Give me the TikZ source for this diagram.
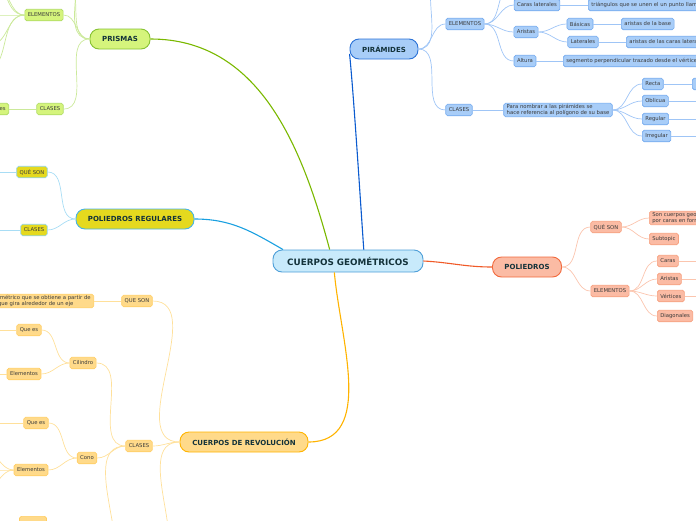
\documentclass[tikz,border=0pt]{standalone}
\usepackage{fontspec}
\setmainfont{DejaVu Sans}
\usetikzlibrary{positioning}
\definecolor{ink}{HTML}{13323A}
\definecolor{textgray}{HTML}{3A3A3A}
\definecolor{centerfill}{HTML}{C8EAFB}
\definecolor{centerline}{HTML}{4E9FD8}
\definecolor{prismline}{HTML}{86C232}
\definecolor{prismfill}{HTML}{D5F47C}
\definecolor{prismsubline}{HTML}{AEDB62}
\definecolor{prismedge}{HTML}{CBE99A}
\definecolor{prismmain}{HTML}{7AB800}
\definecolor{pyrline}{HTML}{2B72D6}
\definecolor{pyrfill}{HTML}{A8CDF8}
\definecolor{pyrsubline}{HTML}{72A9EE}
\definecolor{pyredge}{HTML}{9FC5F6}
\definecolor{pyrmain}{HTML}{0B5BCF}
\definecolor{regline}{HTML}{46B3E6}
\definecolor{regfill}{HTML}{E5D91E}
\definecolor{regsubline}{HTML}{8FD3EA}
\definecolor{regedge}{HTML}{A8DDF5}
\definecolor{regmain}{HTML}{1AA0E0}
\definecolor{polyline}{HTML}{F26A3D}
\definecolor{polyfill}{HTML}{FBBBA4}
\definecolor{polysubline}{HTML}{F6A07F}
\definecolor{polyedge}{HTML}{FBC5AE}
\definecolor{polymain}{HTML}{F05A28}
\definecolor{revline}{HTML}{FFB400}
\definecolor{revfill}{HTML}{FFDA8A}
\definecolor{revsubline}{HTML}{FFCD62}
\definecolor{revedge}{HTML}{FFE09A}
\definecolor{revmain}{HTML}{FFB300}

\begin{document}
\begin{tikzpicture}[
  x=1pt,
  y=-1pt,
  central/.style={
    rounded corners=9pt,minimum height=22pt,minimum width=150pt,
    draw=centerline,fill=centerfill,line width=0.9pt,
    font=\fontsize{8.8}{10}\selectfont\bfseries,text=ink
  },
  topic/.style={
    rounded corners=9pt,minimum height=20pt,inner xsep=4pt,line width=0.9pt,
    font=\fontsize{7}{8}\selectfont\bfseries,text=ink
  },
  sub/.style={
    rounded corners=1.8pt,minimum height=11.5pt,inner xsep=3pt,inner ysep=1pt,
    line width=0.6pt,font=\fontsize{5.3}{6.3}\selectfont,text=textgray,align=left
  },
  prismsub/.style={sub,draw=prismsubline,fill=prismfill},
  pyrsub/.style={sub,draw=pyrsubline,fill=pyrfill},
  regsub/.style={sub,draw=regsubline,fill=regfill},
  polysub/.style={sub,draw=polysubline,fill=polyfill},
  revsub/.style={sub,draw=revsubline,fill=revfill},
  branch/.style={line width=0.7pt},
  mainbranch/.style={line width=1.1pt},
  leftlink/.style={out=180,in=0},
  rightlink/.style={out=0,in=180}
]
  \useasboundingbox (0,0) rectangle (696,520);
  \clip (0,0) rectangle (696,520);

  % centre
  \node[central] (cuerpos) at (348,261) {CUERPOS GEOMÉTRICOS};

  % Prismas
  \node[topic,draw=prismline,fill=prismfill,minimum width=60pt] (prismas) at (120,39) {PRISMAS};
  \node[prismsub] (prism-elem) at (44,15) {ELEMENTOS};
  \node[prismsub] (prism-clases) at (50,109) {CLASES};
  \node[prismsub,anchor=east] (prism-tipos) at (9,109) {Regulares e irregulares};
  \coordinate (prism-up-a) at (62,-22);
  \coordinate (prism-up-b) at (62,-48);
  \coordinate (prism-e1) at (-5,-12);
  \coordinate (prism-e2) at (-15,-30);
  \coordinate (prism-e3) at (-20,15);
  \coordinate (prism-e4) at (-10,45);
  \coordinate (prism-e5) at (-15,70);
  \draw[mainbranch,prismmain] (prismas.east) to[out=0,in=105] (cuerpos.148);
  \foreach \t in {prism-up-a,prism-up-b,prism-elem.east,prism-clases.east}
    \draw[branch,prismedge] (prismas.west) to[leftlink] (\t);
  \foreach \t in {prism-e1,prism-e2,prism-e3,prism-e4,prism-e5}
    \draw[branch,prismedge] (prism-elem.west) to[leftlink] (\t);
  \draw[branch,prismedge] (prism-clases.west) -- (prism-tipos.east);

  % Piramides
  \node[topic,draw=pyrline,fill=pyrfill,minimum width=68pt] (piramides) at (384,49) {PIRÁMIDES};
  \node[pyrsub] (pyr-elem) at (465,24) {ELEMENTOS};
  \node[pyrsub] (pyr-clases) at (459,110) {CLASES};
  \coordinate (pyr-up) at (444,-25);
  \node[pyrsub] (pyr-caras) at (537,5) {Caras laterales};
  \node[pyrsub] (pyr-aristas) at (526,32) {Aristas};
  \node[pyrsub] (pyr-altura) at (525,61) {Altura};
  \coordinate (pyr-base) at (513,-14);
  \node[pyrsub,anchor=west] (pyr-caras-def) at (588,5) {triángulos que se unen el un punto llamado vértice};
  \node[pyrsub] (pyr-basicas) at (580,24) {Básicas};
  \node[pyrsub] (pyr-laterales) at (583,42) {Laterales};
  \node[pyrsub,anchor=west] (pyr-basicas-def) at (621,24) {aristas de la base};
  \node[pyrsub,anchor=west] (pyr-laterales-def) at (626,42) {aristas de las caras laterales};
  \node[pyrsub,anchor=west] (pyr-altura-def) at (563,61) {segmento perpendicular trazado desde el vértice a la base};
  \node[pyrsub] (pyr-nombrar) at (558,110) {Para nombrar a las pirámides se\\hace referencia al polígono de su base};
  \node[pyrsub,anchor=west] (pyr-recta) at (642,84) {Recta};
  \node[pyrsub,anchor=west] (pyr-oblicua) at (642,101) {Oblicua};
  \node[pyrsub,anchor=west] (pyr-regular) at (642,119) {Regular};
  \node[pyrsub,anchor=west] (pyr-irregular) at (642,136) {Irregular};
  \node[pyrsub,anchor=west,minimum width=30pt] (pyr-recta-def) at (692,84) {};
  \coordinate (pyr-oblicua-out) at (720,101);
  \coordinate (pyr-regular-out) at (720,119);
  \coordinate (pyr-irregular-out) at (720,136);
  \draw[mainbranch,pyrmain] (piramides.188) to[out=-84,in=94,looseness=0.5] (cuerpos.36);
  \foreach \t in {pyr-up,pyr-elem.west,pyr-clases.west}
    \draw[branch,pyredge] (piramides.east) to[rightlink] (\t);
  \foreach \t in {pyr-base,pyr-caras.west,pyr-aristas.west,pyr-altura.west}
    \draw[branch,pyredge] (pyr-elem.east) to[rightlink] (\t);
  \foreach \t in {pyr-basicas,pyr-laterales}
    \draw[branch,pyredge] (pyr-aristas.east) to[rightlink] (\t.west);
  \draw[branch,pyredge] (pyr-caras.east) -- (pyr-caras-def.west);
  \draw[branch,pyredge] (pyr-basicas.east) -- (pyr-basicas-def.west);
  \draw[branch,pyredge] (pyr-laterales.east) -- (pyr-laterales-def.west);
  \draw[branch,pyredge] (pyr-altura.east) -- (pyr-altura-def.west);
  \draw[branch,pyredge] (pyr-clases.east) -- (pyr-nombrar.west);
  \foreach \t in {pyr-recta,pyr-oblicua,pyr-regular,pyr-irregular}
    \draw[branch,pyredge] (pyr-nombrar.east) to[rightlink] (\t.west);
  \draw[branch,pyredge] (pyr-recta.east) -- (pyr-recta-def.west);
  \draw[branch,pyredge] (pyr-oblicua.east) -- (pyr-oblicua-out);
  \draw[branch,pyredge] (pyr-regular.east) -- (pyr-regular-out);
  \draw[branch,pyredge] (pyr-irregular.east) -- (pyr-irregular-out);

  % Poliedros regulares
  \node[topic,draw=regline,fill=regfill,minimum width=118pt] (regulares) at (135,219) {POLIEDROS REGULARES};
  \node[regsub] (reg-que) at (32,172) {QUÉ SON};
  \node[regsub] (reg-clases) at (34,230) {CLASES};
  \coordinate (reg-que-out) at (-20,172);
  \coordinate (reg-clases-out) at (-20,230);
  \draw[mainbranch,regmain] (regulares.east) to[out=0,in=150] (cuerpos.170);
  \draw[branch,regedge] (regulares.west) to[leftlink] (reg-que.east);
  \draw[branch,regedge] (regulares.west) to[leftlink] (reg-clases.east);
  \draw[branch,regedge] (reg-que.west) -- (reg-que-out);
  \draw[branch,regedge] (reg-clases.west) -- (reg-clases-out);

  % Poliedros
  \node[topic,draw=polyline,fill=polyfill,minimum width=69pt] (poliedros) at (527,267) {POLIEDROS};
  \node[polysub] (poly-que) at (606,227) {QUÉ SON};
  \node[polysub] (poly-elem) at (610,291) {ELEMENTOS};
  \node[polysub,anchor=west] (poly-def) at (649,218) {Son cuerpos geométricos limitados\\por caras en forma de polígonos};
  \node[polysub,anchor=west] (poly-subtopic) at (649,239) {Subtopic};
  \node[polysub,anchor=west] (poly-caras) at (657,261) {Caras};
  \node[polysub,anchor=west] (poly-aristas) at (657,279) {Aristas};
  \node[polysub,anchor=west] (poly-vertices) at (657,296) {Vértices};
  \node[polysub,anchor=west] (poly-diagonales) at (657,316) {Diagonales};
  \coordinate (poly-caras-out) at (720,261);
  \coordinate (poly-aristas-out) at (720,279);
  \coordinate (poly-vertices-out) at (720,296);
  \draw[mainbranch,polymain] (cuerpos.east) to[out=-3,in=180] (poliedros.west);
  \draw[branch,polyedge] (poliedros.east) to[rightlink] (poly-que.west);
  \draw[branch,polyedge] (poliedros.east) to[rightlink] (poly-elem.west);
  \draw[branch,polyedge] (poly-que.east) to[rightlink] (poly-def.west);
  \draw[branch,polyedge] (poly-que.east) to[rightlink] (poly-subtopic.west);
  \foreach \t in {poly-caras,poly-aristas,poly-vertices,poly-diagonales}
    \draw[branch,polyedge] (poly-elem.east) to[rightlink] (\t.west);
  \draw[branch,polyedge] (poly-caras.east) -- (poly-caras-out);
  \draw[branch,polyedge] (poly-aristas.east) -- (poly-aristas-out);
  \draw[branch,polyedge] (poly-vertices.east) -- (poly-vertices-out);

  % Cuerpos de revolucion
  \node[topic,draw=revline,fill=revfill,minimum width=128pt] (revolucion) at (244,442) {CUERPOS DE REVOLUCIÓN};
  \node[revsub] (rev-que) at (137,301) {QUE SON};
  \node[revsub,anchor=east] (rev-def) at (94,301) {Cuerpo geométrico que se obtiene a partir de\\una figura que gira alrededor de un eje};
  \node[revsub] (rev-clases) at (139,446) {CLASES};
  \coordinate (rev-down) at (150,570);
  \node[revsub] (rev-cilindro) at (83,363) {Cilindro};
  \node[revsub] (rev-cono) at (87,458) {Cono};
  \coordinate (rev-esfera) at (96,580);
  \node[revsub] (cil-que) at (29,330) {Que es};
  \node[revsub] (cil-elem) at (24,374) {Elementos};
  \node[revsub] (cono-que) at (36,423) {Que es};
  \node[revsub] (cono-elem) at (31,470) {Elementos};
  \node[revsub,anchor=north,minimum width=27pt] (esfera-que) at (33,516) {};
  \coordinate (cil-que-out) at (-20,330);
  \coordinate (cil-elem-out) at (-20,374);
  \coordinate (cono-que-out) at (-20,423);
  \coordinate (cono-e1) at (-15,452);
  \coordinate (cono-e2) at (-20,470);
  \coordinate (cono-e3) at (-15,488);
  \draw[mainbranch,revmain] (revolucion.east) to[out=0,in=-85] (cuerpos.220);
  \foreach \t in {rev-que.east,rev-clases.east,rev-down}
    \draw[branch,revedge] (revolucion.west) to[leftlink] (\t);
  \draw[branch,revedge] (rev-que.west) -- (rev-def.east);
  \foreach \t in {rev-cilindro.east,rev-cono.east,rev-esfera}
    \draw[branch,revedge] (rev-clases.west) to[leftlink] (\t);
  \draw[branch,revedge] (rev-cilindro.west) to[leftlink] (cil-que.east);
  \draw[branch,revedge] (rev-cilindro.west) to[leftlink] (cil-elem.east);
  \draw[branch,revedge] (rev-cono.west) to[leftlink] (cono-que.east);
  \draw[branch,revedge] (rev-cono.west) to[leftlink] (cono-elem.east);
  \draw[branch,revedge] (cil-que.west) -- (cil-que-out);
  \draw[branch,revedge] (cil-elem.west) -- (cil-elem-out);
  \draw[branch,revedge] (cono-que.west) -- (cono-que-out);
  \foreach \t in {cono-e1,cono-e2,cono-e3}
    \draw[branch,revedge] (cono-elem.west) to[leftlink] (\t);
\end{tikzpicture}
\end{document}
